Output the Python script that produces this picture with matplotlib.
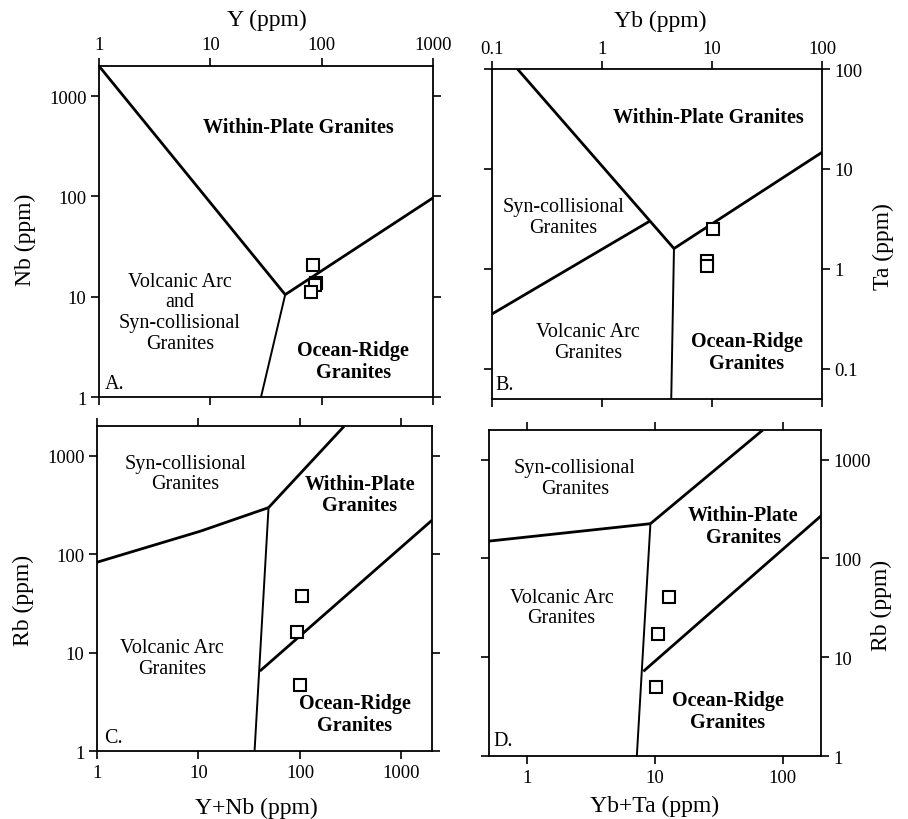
import matplotlib
matplotlib.use("Agg")
import matplotlib.pyplot as plt
from matplotlib.ticker import FixedLocator, FixedFormatter, NullLocator

plt.rcParams['font.family'] = ['Liberation Serif', 'DejaVu Serif']

# ---------------- data ----------------
# Panel A: Nb vs Y
a_wpg_x = [1, 47]; a_wpg_y = [2000, 10.5]
a_org_x = [47, 1000]; a_org_y = [10.5, 97]
a_vag_x = [47, 28.5]; a_vag_y = [10.5, 1]
a_pts_x = [83, 89, 87, 80]; a_pts_y = [20.6, 13.6, 13.0, 11.1]

# Panel B: Ta vs Yb
b_wpg_x = [0.17, 4.5]; b_wpg_y = [100, 1.6]
b_syn_x = [0.1, 2.7]; b_syn_y = [0.355, 3.0]
b_org_x = [4.5, 100]; b_org_y = [1.6, 14.7]
b_vag_x = [4.5, 4.25]; b_vag_y = [1.6, 0.05]
b_pts_x = [10.2, 9.0, 8.9]; b_pts_y = [2.5, 1.21, 1.08]

# Panel C: Rb vs Y+Nb
c_syn_x = [1, 10.5, 49]; c_syn_y = [83, 172, 298]
c_wpg_x = [49, 272]; c_wpg_y = [298, 2000]
c_vag_x = [49, 35.7]; c_vag_y = [298, 1]
c_org_x = [40.3, 2000]; c_org_y = [6.5, 222]
c_pts_x = [105, 93, 100]; c_pts_y = [37.4, 16.4, 4.7]

# Panel D: Rb vs Yb+Ta
d_syn_x = [0.5, 9.2]; d_syn_y = [150, 225]
d_wpg_x = [9.2, 70]; d_wpg_y = [225, 2000]
d_vag_x = [9.2, 7.2]; d_vag_y = [225, 1]
d_org_x = [8.1, 200]; d_org_y = [7.2, 270]
d_pts_x = [12.9, 10.5, 10.2]; d_pts_y = [40.4, 17.3, 5.0]

ticks_1_1000 = [1, 10, 100, 1000]
labels_1_1000 = ['1', '10', '100', '1000']
ticks_01_100 = [0.1, 1, 10, 100]
labels_01_100 = ['0.1', '1', '10', '100']
ticks_1_100 = [1, 10, 100]
labels_1_100 = ['1', '10', '100']

# ---------------- figure ----------------
fig = plt.figure(figsize=(9.08, 8.2), dpi=100)

axA = fig.add_axes([0.109, 0.5146, 0.368, 0.4037])
axB = fig.add_axes([0.542, 0.5122, 0.3634, 0.4024])
axC = fig.add_axes([0.1068, 0.0829, 0.369, 0.396])
axD = fig.add_axes([0.5386, 0.0768, 0.3656, 0.3976])

TICK_FS = 13.5
REG_FS = 14.5
LAB_FS = 17
THICK = 2.0
THIN = 1.4


def style(ax, xlim, ylim, xt, xl, yt, yl, xlab_top, ylab_right):
    ax.set_xscale('log'); ax.set_yscale('log')
    ax.set_xlim(*xlim); ax.set_ylim(*ylim)
    ax.xaxis.set_major_locator(FixedLocator(xt))
    ax.xaxis.set_major_formatter(FixedFormatter(xl))
    ax.yaxis.set_major_locator(FixedLocator(yt))
    ax.yaxis.set_major_formatter(FixedFormatter(yl))
    ax.xaxis.set_minor_locator(NullLocator())
    ax.yaxis.set_minor_locator(NullLocator())
    ax.tick_params(axis='both', which='major', direction='out', length=6, width=1.2,
                   labelsize=TICK_FS, pad=3, top=True, right=True,
                   labeltop=xlab_top, labelbottom=not xlab_top,
                   labelright=ylab_right, labelleft=not ylab_right)
    for s in ax.spines.values():
        s.set_linewidth(1.3)


style(axA, (1, 1000), (1, 2000), ticks_1_1000, labels_1_1000, ticks_1_1000, labels_1_1000, True, False)
style(axB, (0.1, 100), (0.05, 100), ticks_01_100, labels_01_100, ticks_01_100, labels_01_100, True, True)
style(axC, (1, 2000), (1, 2000), ticks_1_1000, labels_1_1000, ticks_1_1000, labels_1_1000, False, False)
style(axD, (0.5, 200), (1, 2000), ticks_1_100, labels_1_100, ticks_1_1000, labels_1_1000, False, True)

k = dict(color='black', solid_capstyle='butt', solid_joinstyle='miter')
mk = dict(linestyle='none', marker='s', markersize=8, markerfacecolor='white',
          markeredgecolor='black', markeredgewidth=1.5, zorder=5)

# Panel A
axA.plot(a_wpg_x, a_wpg_y, lw=THICK, **k)
axA.plot(a_org_x, a_org_y, lw=THICK, **k)
axA.plot(a_vag_x, a_vag_y, lw=THIN, **k)
axA.plot(a_pts_x, a_pts_y, **mk)
# Panel B
axB.plot(b_wpg_x, b_wpg_y, lw=THICK, **k)
axB.plot(b_syn_x, b_syn_y, lw=THICK, **k)
axB.plot(b_org_x, b_org_y, lw=THICK, **k)
axB.plot(b_vag_x, b_vag_y, lw=THIN, **k)
axB.plot(b_pts_x, b_pts_y, **mk)
# Panel C
axC.plot(c_syn_x, c_syn_y, lw=THICK, **k)
axC.plot(c_wpg_x, c_wpg_y, lw=THICK, **k)
axC.plot(c_vag_x, c_vag_y, lw=THIN, **k)
axC.plot(c_org_x, c_org_y, lw=THICK, **k)
axC.plot(c_pts_x, c_pts_y, **mk)
# Panel D
axD.plot(d_syn_x, d_syn_y, lw=THICK, **k)
axD.plot(d_wpg_x, d_wpg_y, lw=THICK, **k)
axD.plot(d_vag_x, d_vag_y, lw=THIN, **k)
axD.plot(d_org_x, d_org_y, lw=THICK, **k)
axD.plot(d_pts_x, d_pts_y, **mk)


def reg(ax, x, y, s, bold=False):
    ax.text(x, y, s, transform=ax.transAxes, ha='center', va='center',
            fontsize=REG_FS, fontweight='bold' if bold else 'normal',
            linespacing=1.12, multialignment='center')


def letter(ax, x, y, s):
    ax.text(x, y, s, transform=ax.transAxes, ha='left', va='bottom', fontsize=REG_FS)


reg(axA, 0.597, 0.815, 'Within-Plate Granites', True)
reg(axA, 0.2425, 0.256, 'Volcanic Arc\nand\nSyn-collisional\nGranites')
reg(axA, 0.761, 0.110, 'Ocean-Ridge\nGranites', True)
letter(axA, 0.018, 0.012, 'A.')

reg(axB, 0.656, 0.854, 'Within-Plate Granites', True)
reg(axB, 0.2156, 0.551, 'Syn-collisional\nGranites')
reg(axB, 0.291, 0.172, 'Volcanic Arc\nGranites')
reg(axB, 0.772, 0.1415, 'Ocean-Ridge\nGranites', True)
letter(axB, 0.01, 0.015, 'B.')

reg(axC, 0.263, 0.855, 'Syn-collisional\nGranites')
reg(axC, 0.785, 0.79, 'Within-Plate\nGranites', True)
reg(axC, 0.223, 0.286, 'Volcanic Arc\nGranites')
reg(axC, 0.770, 0.115, 'Ocean-Ridge\nGranites', True)
letter(axC, 0.02, 0.012, 'C.')

reg(axD, 0.2586, 0.853, 'Syn-collisional\nGranites')
reg(axD, 0.766, 0.706, 'Within-Plate\nGranites', True)
reg(axD, 0.2185, 0.4556, 'Volcanic Arc\nGranites')
reg(axD, 0.719, 0.138, 'Ocean-Ridge\nGranites', True)
letter(axD, 0.012, 0.02, 'D.')

# axis titles
fig.text(0.2937, 0.9756, 'Y (ppm)', ha='center', va='center', fontsize=LAB_FS)
fig.text(0.0275, 0.7073, 'Nb (ppm)', ha='center', va='center', fontsize=LAB_FS, rotation=90)
fig.text(0.727, 0.9736, 'Yb (ppm)', ha='center', va='center', fontsize=LAB_FS)
fig.text(0.9728, 0.699, 'Ta (ppm)', ha='center', va='center', fontsize=LAB_FS, rotation=90)
fig.text(0.0257, 0.268, 'Rb (ppm)', ha='center', va='center', fontsize=LAB_FS, rotation=90)
fig.text(0.2827, 0.0143, 'Y+Nb (ppm)', ha='center', va='center', fontsize=LAB_FS)
fig.text(0.971, 0.262, 'Rb (ppm)', ha='center', va='center', fontsize=LAB_FS, rotation=90)
fig.text(0.7214, 0.0163, 'Yb+Ta (ppm)', ha='center', va='center', fontsize=LAB_FS)

fig.savefig('out.png', dpi=100)
